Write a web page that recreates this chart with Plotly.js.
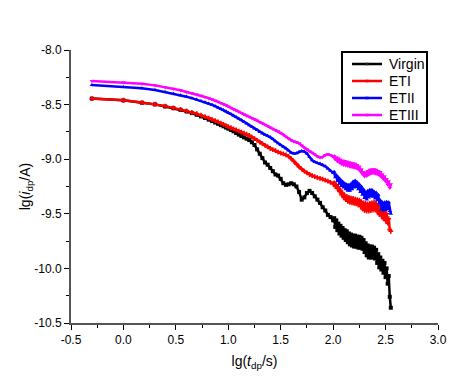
<!DOCTYPE html>
<html>
<head>
<meta charset="utf-8">
<script src="https://cdn.plot.ly/plotly-3.0.1.min.js"></script>
<style>html,body{margin:0;padding:0;background:#fff;}#chart{width:471px;height:377px;}</style>
</head>
<body>
<div id="chart"></div>
<script>
// lg(t_dp / s)
var lgT = [-0.301,0,0.176,0.301,0.398,0.477,0.544,0.602,0.653,0.699,0.740,0.778,0.813,0.845,0.875,0.903,0.929,0.954,0.978,1.0,
1.025,1.05,1.075,1.1,1.125,1.15,1.175,1.2,1.225,1.25,1.275,1.3,1.325,1.35,1.375,1.4,1.425,1.45,1.475,1.5,
1.525,1.55,1.575,1.6,1.625,1.65,1.675,1.7,1.725,1.75,1.775,1.8,1.825,1.85,1.875,1.9,1.925,1.95,1.975,2.0,
2.01,2.02,2.03,2.04,2.05,2.06,2.07,2.08,2.09,
2.10,2.11,2.12,2.13,2.14,2.15,2.16,2.17,2.18,2.19,
2.20,2.21,2.22,2.23,2.24,2.25,2.26,2.27,2.28,2.29,
2.30,2.31,2.32,2.33,2.34,2.35,2.36,2.37,2.38,2.39,
2.40,2.41,2.42,2.43,2.44,2.45,2.46,2.47,2.48,2.49,
2.50,2.51,2.52,2.53,2.54,2.55];

var yVirgin = [-8.445,-8.461,-8.483,-8.498,-8.517,-8.533,-8.548,-8.563,-8.578,-8.593,-8.608,-8.623,-8.638,-8.651,-8.664,-8.676,-8.688,-8.699,-8.710,-8.720,
-8.732,-8.745,-8.760,-8.775,-8.788,-8.800,-8.812,-8.825,-8.845,-8.870,-8.910,-8.950,-8.990,-9.030,-9.050,-9.080,-9.110,-9.140,-9.150,-9.180,
-9.220,-9.235,-9.230,-9.220,-9.230,-9.250,-9.300,-9.370,-9.350,-9.310,-9.290,-9.310,-9.340,-9.370,-9.400,-9.440,-9.470,-9.510,-9.530,-9.560,
-9.54,-9.62,-9.56,-9.65,-9.59,-9.68,-9.61,-9.70,-9.63,
-9.72,-9.65,-9.74,-9.66,-9.76,-9.68,-9.78,-9.69,-9.79,-9.70,
-9.80,-9.70,-9.80,-9.71,-9.81,-9.71,-9.81,-9.72,-9.82,-9.74,
-9.85,-9.77,-9.88,-9.79,-9.90,-9.80,-9.90,-9.80,-9.90,-9.81,
-9.91,-9.83,-9.95,-9.87,-9.99,-9.90,-10.01,-9.93,-10.04,-9.95,
-10.08,-10.00,-10.14,-10.07,-10.26,-10.36];

var yET1 = [-8.445,-8.460,-8.481,-8.496,-8.514,-8.530,-8.544,-8.558,-8.571,-8.584,-8.597,-8.610,-8.623,-8.635,-8.647,-8.659,-8.670,-8.681,-8.692,-8.703,
-8.712,-8.722,-8.732,-8.743,-8.752,-8.762,-8.771,-8.782,-8.797,-8.812,-8.827,-8.843,-8.858,-8.873,-8.888,-8.902,-8.912,-8.922,-8.935,-8.945,
-8.952,-8.960,-8.975,-8.995,-9.020,-9.045,-9.070,-9.090,-9.110,-9.125,-9.140,-9.150,-9.160,-9.168,-9.175,-9.183,-9.192,-9.200,-9.212,-9.225,
-9.218,-9.250,-9.235,-9.268,-9.255,-9.295,-9.285,-9.325,-9.310,
-9.350,-9.330,-9.370,-9.340,-9.385,-9.350,-9.395,-9.355,-9.400,-9.360,
-9.405,-9.365,-9.410,-9.370,-9.420,-9.375,-9.430,-9.390,-9.455,-9.400,
-9.470,-9.405,-9.475,-9.410,-9.475,-9.405,-9.470,-9.400,-9.465,-9.395,
-9.460,-9.405,-9.480,-9.425,-9.505,-9.445,-9.520,-9.465,-9.545,-9.485,
-9.560,-9.500,-9.585,-9.545,-9.645,-9.660];

var yET2 = [-8.321,-8.339,-8.351,-8.367,-8.385,-8.400,-8.414,-8.428,-8.441,-8.454,-8.466,-8.478,-8.490,-8.502,-8.514,-8.526,-8.538,-8.550,-8.562,-8.575,
-8.587,-8.600,-8.613,-8.627,-8.642,-8.657,-8.672,-8.688,-8.703,-8.718,-8.733,-8.752,-8.765,-8.775,-8.786,-8.797,-8.815,-8.835,-8.855,-8.870,
-8.885,-8.900,-8.920,-8.940,-8.948,-8.945,-8.932,-8.925,-8.930,-8.947,-8.980,-9.010,-9.025,-9.035,-9.040,-9.050,-9.065,-9.085,-9.105,-9.125,
-9.115,-9.165,-9.145,-9.200,-9.165,-9.225,-9.185,-9.245,-9.205,
-9.260,-9.220,-9.275,-9.230,-9.290,-9.235,-9.290,-9.225,-9.275,-9.205,
-9.260,-9.195,-9.255,-9.210,-9.275,-9.230,-9.300,-9.250,-9.325,-9.275,
-9.355,-9.300,-9.370,-9.290,-9.350,-9.280,-9.340,-9.280,-9.345,-9.295,
-9.360,-9.305,-9.375,-9.325,-9.405,-9.375,-9.460,-9.395,-9.470,-9.395,
-9.465,-9.390,-9.455,-9.395,-9.475,-9.500];

var yET3 = [-8.284,-8.296,-8.309,-8.324,-8.340,-8.355,-8.369,-8.384,-8.396,-8.408,-8.419,-8.430,-8.441,-8.452,-8.463,-8.474,-8.485,-8.496,-8.507,-8.518,
-8.530,-8.542,-8.554,-8.566,-8.578,-8.590,-8.601,-8.612,-8.623,-8.634,-8.646,-8.660,-8.672,-8.684,-8.697,-8.710,-8.722,-8.733,-8.745,-8.758,
-8.775,-8.795,-8.812,-8.828,-8.838,-8.845,-8.855,-8.875,-8.895,-8.912,-8.928,-8.940,-8.958,-8.975,-8.985,-8.980,-8.962,-8.955,-8.962,-8.978,
-8.972,-9.003,-8.982,-9.018,-8.992,-9.033,-9.002,-9.043,-9.012,
-9.053,-9.017,-9.058,-9.022,-9.063,-9.027,-9.068,-9.032,-9.073,-9.037,
-9.078,-9.042,-9.083,-9.052,-9.093,-9.067,-9.113,-9.092,-9.138,-9.117,
-9.158,-9.122,-9.153,-9.107,-9.143,-9.097,-9.133,-9.092,-9.128,-9.092,
-9.133,-9.097,-9.138,-9.107,-9.148,-9.117,-9.163,-9.137,-9.183,-9.157,
-9.203,-9.182,-9.233,-9.202,-9.263,-9.230];

var seriesNames = ['Virgin', 'ETI', 'ETII', 'ETIII'];
var xTickVals = [-0.5, 0, 0.5, 1, 1.5, 2, 2.5, 3];
var xTickText = ['-0.5', '0.0', '0.5', '1.0', '1.5', '2.0', '2.5', '3.0'];
var yTickVals = [-10.5, -10, -9.5, -9, -8.5, -8];
var yTickText = ['-10.5', '-10.0', '-9.5', '-9.0', '-8.5', '-8.0'];

var ys = [yVirgin, yET1, yET2, yET3];
var colors = ['#000000', '#ff0000', '#0000ff', '#ff00ff'];
var symbols = ['square', 'cross', 'triangle-up', 'triangle-down'];
var traces = ys.map(function (y, i) {
  return {
    x: lgT, y: y, name: seriesNames[i], type: 'scatter', mode: 'lines+markers',
    showlegend: false,
    line: {color: colors[i], width: 2.5},
    marker: {color: colors[i], symbol: symbols[i], size: 4, line: {width: 0}}
  };
});

// Hand-built legend box (paper coordinates), matching the boxed legend of the reference
var W = 471, H = 377, mL = 71, mR = 33, mT = 50, mB = 54;
var pw = W - mL - mR, ph = H - mT - mB;
function px2x(p) { return (p - mL) / pw; }
function py2y(p) { return 1 - (p - mT) / ph; }
var shapes = [{
  type: 'rect', xref: 'paper', yref: 'paper',
  x0: px2x(342), x1: px2x(427), y0: py2y(123), y1: py2y(52),
  line: {color: '#000', width: 2}, fillcolor: '#fff', layer: 'above'
}];
var annotations = [];
var rowPx = [64, 81, 98, 115];
seriesNames.forEach(function (nm, i) {
  var yy = py2y(rowPx[i]);
  shapes.push({type: 'line', xref: 'paper', yref: 'paper', x0: px2x(352), x1: px2x(382), y0: yy, y1: yy,
    line: {color: colors[i], width: 2.5}, layer: 'above'});
  shapes.push({type: 'rect', xref: 'paper', yref: 'paper', xsizemode: 'pixel', ysizemode: 'pixel',
    xanchor: px2x(367), yanchor: yy, x0: -1.5, x1: 1.5, y0: -1.5, y1: 1.5,
    line: {width: 0}, fillcolor: i === 0 ? '#333' : colors[i], opacity: 0.6, layer: 'above'});
  annotations.push({text: nm, xref: 'paper', yref: 'paper', x: px2x(387), y: yy,
    xanchor: 'left', yanchor: 'middle', showarrow: false,
    font: {family: 'Liberation Sans, Arial, sans-serif', size: 14, color: '#000'}});
});

var font = {family: 'Liberation Sans, Arial, sans-serif', size: 12, color: '#000'};
var layout = {
  width: W, height: H,
  margin: {l: mL, r: mR, t: mT, b: mB},
  paper_bgcolor: '#fff', plot_bgcolor: '#fff',
  font: font,
  showlegend: false,
  shapes: shapes,
  annotations: annotations,
  xaxis: {
    range: [-0.5, 3.0], showgrid: false, zeroline: false,
    tickvals: xTickVals, ticktext: xTickText,
    ticks: 'outside', ticklen: 5, tickwidth: 1, tickcolor: '#000',
    minor: {dtick: 0.25, tick0: 0, ticks: 'outside', ticklen: 3, tickcolor: '#000', showgrid: false},
    showline: true, linecolor: '#555', linewidth: 2, mirror: false,
    tickfont: font,
    title: {text: 'lg(<i>t</i><sub>dp</sub>/s)', font: {family: 'Liberation Sans, Arial, sans-serif', size: 14, color: '#000'}, standoff: 10}
  },
  yaxis: {
    range: [-10.5, -8.0], showgrid: false, zeroline: false,
    tickvals: yTickVals, ticktext: yTickText,
    ticks: 'outside', ticklen: 5, tickwidth: 1, tickcolor: '#000',
    minor: {dtick: 0.25, tick0: -8, ticks: 'outside', ticklen: 3, tickcolor: '#000', showgrid: false},
    showline: true, linecolor: '#555', linewidth: 2, mirror: false,
    tickfont: font,
    title: {text: 'lg(<i>i</i><sub>dp</sub>/A)', font: {family: 'Liberation Sans, Arial, sans-serif', size: 14, color: '#000'}, standoff: 0}
  }
};

Plotly.newPlot('chart', traces, layout, {displayModeBar: false, staticPlot: true});
</script>
</body>
</html>
